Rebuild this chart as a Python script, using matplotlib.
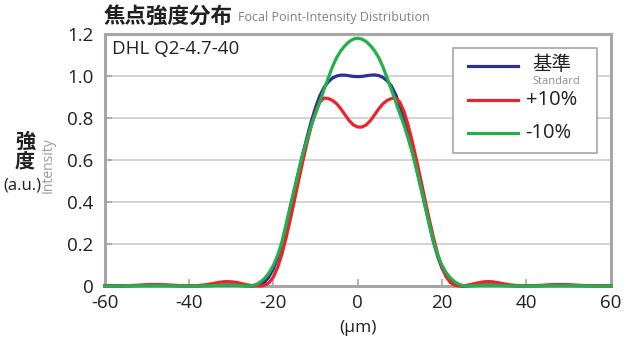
import matplotlib
matplotlib.use("Agg")
import matplotlib.pyplot as plt
from matplotlib.lines import Line2D
from matplotlib.patches import Rectangle

# ---------------- data ----------------
x_um = [-60, -58, -56, -54, -52, -50, -48, -46, -44, -42, -40, -38, -36, -34, -33, -32, -31, -30, -29, -28, -27, -26, -25,
        -24, -23, -22, -21, -20, -19, -18, -17, -16, -15, -14, -13, -12, -11, -10, -9, -8, -7, -6, -5, -4, -3, -2, -1,
        0, 1, 2, 3, 4, 5, 6, 7, 8, 9, 10, 11, 12, 13, 14, 15, 16, 17, 18, 19, 20, 21, 22, 23, 24,
        25, 26, 27, 28, 29, 30, 31, 32, 33, 34, 36, 38, 40, 42, 44, 46, 48, 50, 52, 54, 56, 58, 60]

standard = [0.001, 0.001, 0.001, 0.002, 0.002, 0.003, 0.003, 0.003, 0.002, 0.001, 0.001, 0.001, 0.002, 0.003, 0.004, 0.005, 0.005, 0.005, 0.004, 0.003, 0.002, 0.001, 0.0,
            0.003, 0.008, 0.02, 0.045, 0.082, 0.133, 0.2, 0.283, 0.37, 0.458, 0.545, 0.63, 0.71, 0.785, 0.85, 0.905, 0.945, 0.972, 0.99, 1.0, 1.004, 1.004, 1.001, 0.998,
            0.997, 0.998, 1.001, 1.004, 1.005, 1.002, 0.993, 0.977, 0.952, 0.912, 0.858, 0.793, 0.72, 0.64, 0.555, 0.468, 0.38, 0.292, 0.208, 0.138, 0.085, 0.048, 0.022, 0.009, 0.003,
            0.0, 0.001, 0.002, 0.003, 0.004, 0.005, 0.005, 0.005, 0.004, 0.003, 0.002, 0.001, 0.001, 0.001, 0.002, 0.003, 0.003, 0.003, 0.002, 0.002, 0.001, 0.001, 0.001]

plus10 = [0.001, 0.001, 0.001, 0.002, 0.004, 0.006, 0.007, 0.006, 0.004, 0.002, 0.001, 0.002, 0.006, 0.013, 0.017, 0.02, 0.021, 0.02, 0.018, 0.014, 0.009, 0.005, 0.002,
          0.001, 0.0, 0.004, 0.016, 0.043, 0.088, 0.15, 0.228, 0.315, 0.408, 0.503, 0.595, 0.683, 0.763, 0.83, 0.875, 0.895, 0.893, 0.884, 0.868, 0.844, 0.815, 0.787, 0.767,
          0.757, 0.757, 0.767, 0.787, 0.815, 0.844, 0.868, 0.884, 0.893, 0.895, 0.875, 0.83, 0.763, 0.683, 0.595, 0.503, 0.408, 0.315, 0.228, 0.15, 0.088, 0.043, 0.016, 0.004, 0.0,
          0.001, 0.004, 0.008, 0.013, 0.017, 0.02, 0.021, 0.02, 0.017, 0.013, 0.006, 0.002, 0.001, 0.002, 0.004, 0.006, 0.007, 0.006, 0.004, 0.002, 0.001, 0.001, 0.001]

minus10 = [0.0, 0.0, 0.0, 0.001, 0.001, 0.001, 0.001, 0.001, 0.001, 0.0, 0.0, 0.0, 0.001, 0.002, 0.003, 0.003, 0.003, 0.003, 0.003, 0.002, 0.001, 0.0, 0.002,
           0.008, 0.02, 0.038, 0.063, 0.098, 0.145, 0.207, 0.292, 0.38, 0.465, 0.55, 0.63, 0.70, 0.765, 0.82, 0.877, 0.935, 0.99, 1.043, 1.087, 1.12, 1.145, 1.164, 1.176,
           1.18, 1.176, 1.164, 1.145, 1.12, 1.087, 1.043, 0.99, 0.935, 0.877, 0.82, 0.765, 0.70, 0.63, 0.55, 0.465, 0.38, 0.292, 0.207, 0.145, 0.098, 0.063, 0.038, 0.02, 0.008,
           0.002, 0.0, 0.001, 0.002, 0.003, 0.003, 0.003, 0.003, 0.003, 0.002, 0.001, 0.0, 0.0, 0.0, 0.001, 0.001, 0.001, 0.001, 0.001, 0.001, 0.0, 0.0, 0.0]

series_labels = ["基準", "+10%", "-10%"]
series_colors = ["#2e3192", "#e8252c", "#22b04b"]
x_ticks = [-60, -40, -20, 0, 20, 40, 60]
y_ticks = [0, 0.2, 0.4, 0.6, 0.8, 1.0, 1.2]
y_tick_labels = ["0", "0.2", "0.4", "0.6", "0.8", "1.0", "1.2"]

# ---------------- figure ----------------
W, H = 633, 341
fig = plt.figure(figsize=(W / 100, H / 100), dpi=100)
LAT = ["Open Sans", "Noto Sans CJK JP", "DejaVu Sans"]
CJK = ["Noto Sans CJK JP", "DejaVu Sans"]
TXT = "#231f20"
GRAY = "#a6a6a6"


def fx(px):
    return px / W


def fy(py):
    return 1 - py / H


ax_l, ax_r, ax_t, ax_b = 104.7, 610.7, 34.0, 286.0
ax = fig.add_axes([fx(ax_l), fy(ax_b), (ax_r - ax_l) / W, (ax_b - ax_t) / H])

for yvals, col in zip([standard, plus10, minus10], series_colors):
    ax.plot(x_um, yvals, color=col, lw=2.3, solid_joinstyle="round", zorder=3, clip_on=False)

ax.set_xlim(-60, 60)
ax.set_ylim(0, 1.2)
ax.set_xticks(x_ticks)
ax.set_xticklabels([str(v) for v in x_ticks], fontsize=13.5, color=TXT, family=LAT)
ax.set_yticks(y_ticks)
ax.set_yticklabels(y_tick_labels, fontsize=13.5, color=TXT, family=LAT)
ax.tick_params(axis="both", direction="in", length=5, width=1.2, color=GRAY)
ax.tick_params(axis="x", pad=6)
ax.tick_params(axis="y", pad=8)
ax.grid(axis="y", color="#c8c8c8", lw=1.1, zorder=1)
for s in ax.spines.values():
    s.set_color(GRAY)
    s.set_linewidth(2.2)

ax.text(0.015, 0.975, "DHL Q2-4.7-40", transform=ax.transAxes, ha="left", va="top",
        fontsize=13.5, color=TXT, family=LAT)

# legend (manual)
ax.add_patch(Rectangle((0.688, 0.528), 0.285, 0.416, transform=ax.transAxes,
                       facecolor="white", edgecolor=GRAY, lw=1.2, zorder=5))
leg_y = [0.873, 0.738, 0.607]
for yy, col in zip(leg_y, series_colors):
    ax.add_line(Line2D([0.718, 0.817], [yy, yy], transform=ax.transAxes, color=col, lw=2.3, zorder=6))
ax.text(0.846, 0.877, series_labels[0], transform=ax.transAxes, ha="left", va="center",
        fontsize=14, color=TXT, family=CJK, zorder=6)
ax.text(0.846, 0.810, "Standard", transform=ax.transAxes, ha="left", va="center",
        fontsize=8, color="#8c8c8c", family=LAT, zorder=6)
ax.text(0.832, 0.738, series_labels[1], transform=ax.transAxes, ha="left", va="center",
        fontsize=14.5, color=TXT, family=LAT, zorder=6)
ax.text(0.832, 0.607, series_labels[2], transform=ax.transAxes, ha="left", va="center",
        fontsize=14.5, color=TXT, family=LAT, zorder=6)

# titles and labels
fig.text(fx(104), fy(16), "焦点強度分布", ha="left", va="center", fontsize=15.5,
         fontweight="bold", color=TXT, family=CJK)
fig.text(fx(238), fy(18), "Focal Point-Intensity Distribution", ha="left", va="center",
         fontsize=9, color="#7f7f7f", family=LAT)
fig.text(fx(25), fy(141.5), "強", ha="center", va="center", fontsize=14.5, fontweight="bold",
         color=TXT, family=CJK)
fig.text(fx(25), fy(161), "度", ha="center", va="center", fontsize=14.5, fontweight="bold",
         color=TXT, family=CJK)
fig.text(fx(22), fy(186), "(a.u.)", ha="center", va="center", fontsize=12, color=TXT, family=LAT)
fig.text(fx(48), fy(165), "Intensity", ha="center", va="center", rotation=90, fontsize=10,
         color="#9a9a9a", family=LAT)
fig.text(fx(358), fy(328), "(μm)", ha="center", va="center", fontsize=12.5, color=TXT, family=LAT)

fig.savefig("out.png", dpi=100)
